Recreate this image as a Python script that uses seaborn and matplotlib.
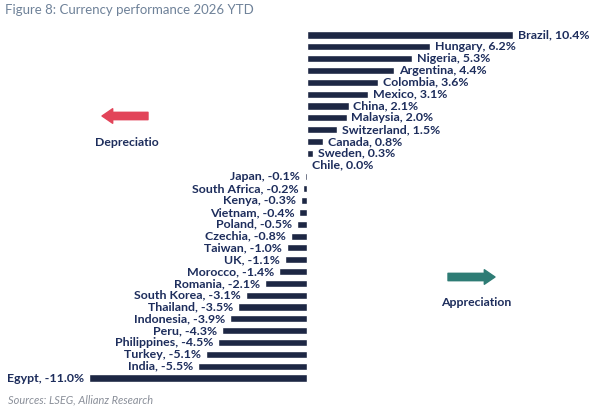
import matplotlib
matplotlib.use("Agg")
import matplotlib.pyplot as plt
import seaborn as sns
import pandas as pd

countries = ["Brazil", "Hungary", "Nigeria", "Argentina", "Colombia", "Mexico",
             "China", "Malaysia", "Switzerland", "Canada", "Sweden", "Chile",
             "Japan", "South Africa", "Kenya", "Vietnam", "Poland", "Czechia",
             "Taiwan", "UK", "Morocco", "Romania", "South Korea", "Thailand",
             "Indonesia", "Peru", "Philippines", "Turkey", "India", "Egypt"]
change = [10.4, 6.2, 5.3, 4.4, 3.6, 3.1,
          2.1, 2.0, 1.5, 0.8, 0.3, 0.0,
          -0.1, -0.2, -0.3, -0.4, -0.5, -0.8,
          -1.0, -1.1, -1.4, -2.1, -3.1, -3.5,
          -3.9, -4.3, -4.5, -5.1, -5.5, -11.0]

df = pd.DataFrame({"country": countries, "change": change})

navy = "#16244b"
sns.set_style("white")
plt.rcParams["font.family"] = ["Lato", "DejaVu Sans"]

fig = plt.figure(figsize=(5.98, 4.11), dpi=100)
ax = fig.add_axes([0, 0, 1, 1])
sns.barplot(data=df, x="change", y="country", orient="h", color=navy,
            width=0.6, ax=ax)

# place zero at ~307px, rows from 35px to 378px
scale = 19.8
ax.set_xlim(-307 / scale, (598 - 307) / scale)
step = (378 - 35) / 29
ax.set_ylim((411 - 35) / step, -35 / step)
ax.axis("off")

labels = [f"{c}, {v:.1f}%" for c, v in zip(countries, change)]
ax.bar_label(ax.containers[0], labels=labels, padding=3.5, fontsize=8.9,
             fontweight="bold", color="#1d2d5c")

fig.text(0.008, 0.975, "Figure 8: Currency performance 2026 YTD", fontsize=9.5,
         color="#6f8299", va="center", ha="left")
fig.text(0.013, 0.027, "Sources: LSEG, Allianz Research", fontsize=7.9,
         color="#8a8f99", style="italic", va="center", ha="left")

# direction arrows
arrow = "simple,head_length=0.55,head_width=0.75,tail_width=0.38"
ax.annotate("", xy=(102, 295), xytext=(148, 295), xycoords="figure pixels",
            textcoords="figure pixels",
            arrowprops=dict(arrowstyle=arrow, mutation_scale=14, color="#e24459",
                            shrinkA=0, shrinkB=0))
ax.annotate("", xy=(495, 134), xytext=(448, 134), xycoords="figure pixels",
            textcoords="figure pixels",
            arrowprops=dict(arrowstyle=arrow, mutation_scale=14, color="#2e7c75",
                            shrinkA=0, shrinkB=0))
fig.text(127 / 598, 1 - 143 / 411, "Depreciatio", fontsize=8.8, fontweight="bold",
         color="#1d2d5c", ha="center", va="center")
fig.text(476 / 598, 1 - 302 / 411, "Appreciation", fontsize=8.8, fontweight="bold",
         color="#1d2d5c", ha="center", va="center")

fig.savefig("out.png", dpi=100)
